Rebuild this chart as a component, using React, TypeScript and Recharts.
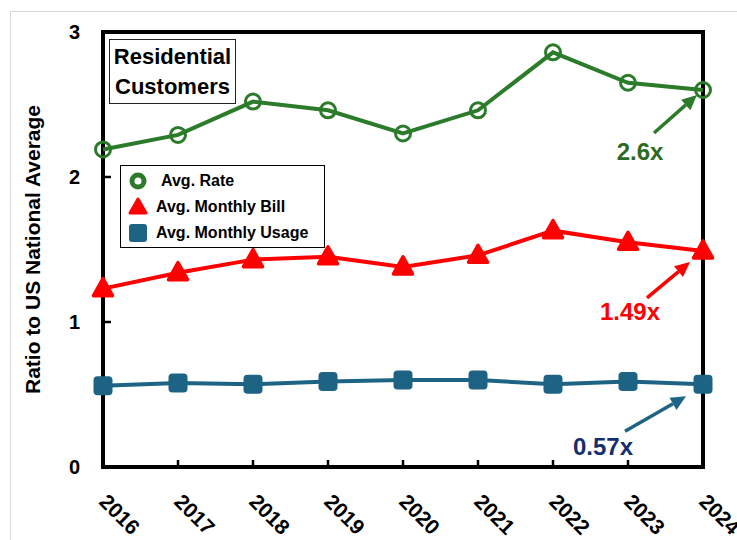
import React from 'react';
import {
  LineChart,
  Line,
  XAxis,
  YAxis,
  Legend,
  ReferenceArea,
  ReferenceDot,
} from 'recharts';

const years = ['2016', '2017', '2018', '2019', '2020', '2021', '2022', '2023', '2024'];
const avgRate = [2.19, 2.29, 2.52, 2.46, 2.3, 2.46, 2.86, 2.65, 2.6];
const avgBill = [1.23, 1.34, 1.43, 1.45, 1.38, 1.46, 1.63, 1.55, 1.49];
const avgUsage = [0.56, 0.58, 0.57, 0.59, 0.6, 0.6, 0.57, 0.59, 0.57];
const yTicks = [0, 1, 2, 3];

const FONT = '"Liberation Sans", Arial, sans-serif';
const GREEN = '#2b7b2b';
const RED = '#ff0000';
const BLUE = '#1d6384';

const data = years.map((year, i) => ({
  year,
  rate: avgRate[i],
  bill: avgBill[i],
  usage: avgUsage[i],
}));

const last = years.length - 1;

function XTick({ x, y, payload }: any) {
  const tx = x - 5;
  const ty = y + 36;
  return (
    <g>
      <line x1={x} x2={x} y1={y} y2={y - 7} stroke="#000" strokeWidth={2.5} />
      <text
        x={tx}
        y={ty}
        transform={`rotate(45 ${tx} ${ty})`}
        fontFamily={FONT}
        fontSize={21}
        fontWeight={700}
        fill="#000"
        textAnchor="start"
      >
        {payload.value}
      </text>
    </g>
  );
}

function YTick({ x, y, payload }: any) {
  return (
    <g>
      <line x1={x} x2={x + 8} y1={y} y2={y} stroke="#000" strokeWidth={2.5} />
      <text
        x={x - 23}
        y={y}
        dy="0.36em"
        fontFamily={FONT}
        fontSize={20}
        fontWeight={700}
        fill="#000"
        textAnchor="end"
      >
        {payload.value}
      </text>
    </g>
  );
}

function RingDot({ cx, cy, index }: any) {
  return <circle key={`r-${index}`} cx={cx} cy={cy} r={7.5} fill="none" stroke={GREEN} strokeWidth={3} />;
}

function TriDot({ cx, cy, index }: any) {
  return (
    <path
      key={`t-${index}`}
      d={`M${cx},${cy - 10} L${cx + 9.5},${cy + 7} L${cx - 9.5},${cy + 7} Z`}
      fill={RED}
      stroke={RED}
      strokeWidth={3.5}
      strokeLinejoin="round"
    />
  );
}

function SquareDot({ cx, cy, index }: any) {
  return <rect key={`s-${index}`} x={cx - 9.5} y={cy - 9.5} width={19} height={19} rx={4} fill={BLUE} />;
}

// arrow + label pointing at the last point of a series
function callout(color: string, textColor: string, label: string, tip: number[], tail: number[], lbl: number[]) {
  return ({ cx, cy }: any) => {
    const x1 = cx + tail[0];
    const y1 = cy + tail[1];
    const x2 = cx + tip[0];
    const y2 = cy + tip[1];
    const dx = x2 - x1;
    const dy = y2 - y1;
    const len = Math.sqrt(dx * dx + dy * dy);
    const ux = dx / len;
    const uy = dy / len;
    const hl = 15;
    const hw = 7;
    const bx = x2 - ux * hl;
    const by = y2 - uy * hl;
    return (
      <g>
        <line x1={x1} y1={y1} x2={bx} y2={by} stroke={color} strokeWidth={3.5} />
        <polygon
          points={`${x2},${y2} ${bx - uy * hw},${by + ux * hw} ${bx + uy * hw},${by - ux * hw}`}
          fill={color}
        />
        <text
          x={cx + lbl[0]}
          y={cy + lbl[1]}
          dy="0.36em"
          textAnchor="middle"
          fontFamily={FONT}
          fontSize={24}
          fontWeight={700}
          fill={textColor}
        >
          {label}
        </text>
      </g>
    );
  };
}

const legendItems = [
  { name: 'Avg. Rate', kind: 'ring' },
  { name: 'Avg. Monthly Bill', kind: 'tri' },
  { name: 'Avg. Monthly Usage', kind: 'square' },
];

function LegendBox() {
  return (
    <div
      style={{
        background: '#fff',
        border: '1.5px solid #000',
        boxSizing: 'border-box',
        width: 205,
        height: 83,
        padding: '2px 0 0 6px',
        fontFamily: FONT,
        fontSize: 16,
        fontWeight: 700,
        color: '#000',
      }}
    >
      {legendItems.map((it) => (
        <div key={it.name} style={{ display: 'flex', alignItems: 'center', height: 26 }}>
          <svg width={22} height={22} style={{ marginRight: it.kind === 'ring' ? 12 : 7 }}>
            {it.kind === 'ring' && <circle cx={11} cy={11} r={6} fill="none" stroke={GREEN} strokeWidth={5} />}
            {it.kind === 'tri' && (
              <path d="M11,3 L19,17 L3,17 Z" fill={RED} stroke={RED} strokeWidth={3} strokeLinejoin="round" />
            )}
            {it.kind === 'square' && <rect x={2} y={2} width={18} height={18} rx={3} fill={BLUE} />}
          </svg>
          <span>{it.name}</span>
        </div>
      ))}
    </div>
  );
}

export default function App() {
  return (
    <div
      style={{
        position: 'absolute',
        left: 0,
        top: 0,
        width: 737,
        height: 540,
        overflow: 'hidden',
        background: '#fff',
      }}
    >
      <div
        style={{
          position: 'absolute',
          left: 10,
          top: 11,
          width: 760,
          height: 560,
          border: '1px solid #d9d9d9',
        }}
      />
      <LineChart
        width={737}
        height={540}
        data={data}
        margin={{ top: 32, right: 34, left: 0, bottom: 0 }}
      >
        <XAxis
          dataKey="year"
          height={73}
          axisLine={false}
          tickLine={false}
          tickSize={0}
          tickMargin={0}
          interval={0}
          tick={<XTick />}
        />
        <YAxis
          width={103}
          domain={[0, 3]}
          ticks={yTicks}
          axisLine={false}
          tickLine={false}
          tickSize={0}
          tickMargin={0}
          tick={<YTick />}
          label={{
            value: 'Ratio to US National Average',
            angle: -90,
            position: 'insideLeft',
            dx: 28,
            dy: 0,
            style: { fontFamily: FONT, fontSize: 21, fontWeight: 700, fill: '#000', textAnchor: 'middle' },
          }}
        />
        <ReferenceArea
          x1={years[0]}
          x2={years[last]}
          y1={0}
          y2={3}
          fill="none"
          stroke="#000"
          strokeWidth={4}
        />
        <Legend
          layout="vertical"
          align="center"
          verticalAlign="middle"
          wrapperStyle={{ left: 120, top: 165, width: 205 }}
          content={() => <LegendBox />}
        />
        <Line
          dataKey="rate"
          name="Avg. Rate"
          stroke={GREEN}
          strokeWidth={4}
          dot={<RingDot />}
          activeDot={false}
          isAnimationActive={false}
        />
        <Line
          dataKey="bill"
          name="Avg. Monthly Bill"
          stroke={RED}
          strokeWidth={4}
          dot={<TriDot />}
          activeDot={false}
          isAnimationActive={false}
        />
        <Line
          dataKey="usage"
          name="Avg. Monthly Usage"
          stroke={BLUE}
          strokeWidth={4}
          dot={<SquareDot />}
          activeDot={false}
          isAnimationActive={false}
        />
        <ReferenceDot
          x={years[last]}
          y={avgRate[last]}
          r={0}
          ifOverflow="visible"
          shape={callout(GREEN, '#2d6b24', '2.6x', [-6, 5], [-49, 43], [-63, 61])}
        />
        <ReferenceDot
          x={years[last]}
          y={avgBill[last]}
          r={0}
          ifOverflow="visible"
          shape={callout(RED, RED, '1.49x', [-13, 11], [-56, 47], [-73, 60])}
        />
        <ReferenceDot
          x={years[last]}
          y={avgUsage[last]}
          r={0}
          ifOverflow="visible"
          shape={callout(BLUE, '#152f6e', '0.57x', [-17, 12], [-78, 47], [-100, 62])}
        />
      </LineChart>
      <div
        style={{
          position: 'absolute',
          left: 109,
          top: 39,
          width: 127,
          height: 65,
          boxSizing: 'border-box',
          border: '1.5px solid #222',
          background: '#fff',
          fontFamily: FONT,
          fontSize: 22,
          fontWeight: 700,
          lineHeight: '30px',
          textAlign: 'center',
          paddingTop: 2,
          color: '#000',
        }}
      >
        Residential
        <br />
        Customers
      </div>
    </div>
  );
}
